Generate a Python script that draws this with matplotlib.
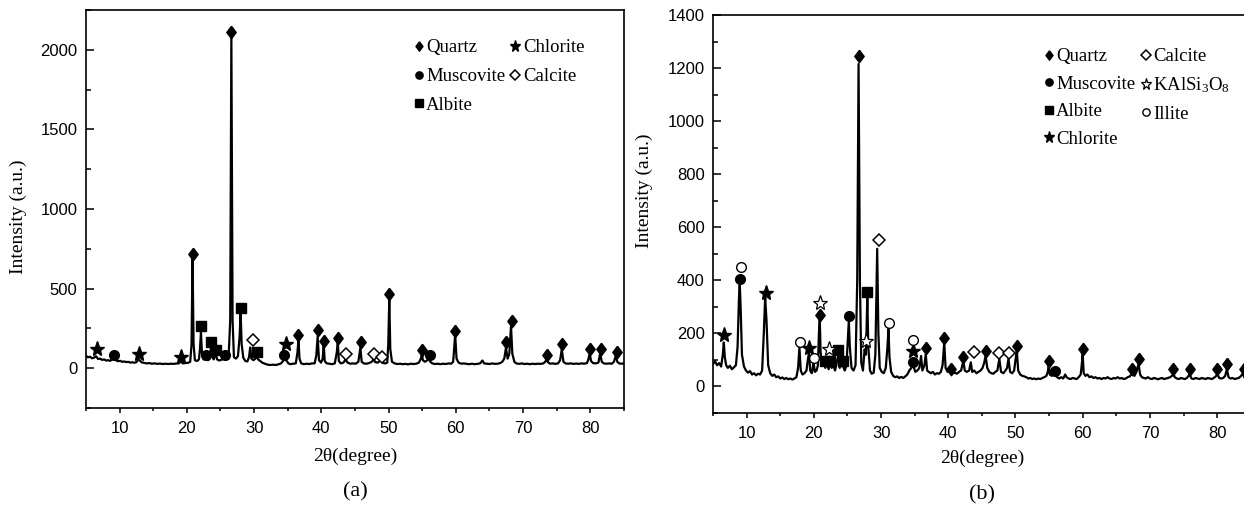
import matplotlib.pyplot as plt
from matplotlib.ticker import MultipleLocator

plt.rcParams['font.family'] = 'Liberation Serif'
plt.rcParams['mathtext.fontset'] = 'custom'
plt.rcParams['mathtext.rm'] = 'Liberation Serif'
plt.rcParams['mathtext.it'] = 'Liberation Serif:italic'

# ---- panel (a): XRD trace ----
trace_a = [
    (5.0, 78), (5.3, 68), (5.6, 72), (5.9, 62), (6.2, 66), (6.5, 75), (6.8, 58),
    (7.1, 60), (7.4, 52), (7.7, 55), (8.0, 48), (8.3, 50), (8.6, 46), (8.9, 55),
    (9.2, 62), (9.5, 48), (9.8, 44), (10.1, 46), (10.4, 40), (10.7, 42), (11.0, 38),
    (11.3, 40), (11.6, 35), (11.9, 37), (12.2, 34), (12.5, 38), (12.8, 55), (13.0, 48),
    (13.3, 36), (13.6, 34), (14.0, 30), (14.4, 32), (14.8, 28), (15.2, 30), (15.6, 27),
    (16.0, 29), (16.4, 26), (16.8, 28), (17.2, 26), (17.6, 28), (18.0, 27), (18.4, 29),
    (18.8, 30), (19.1, 42), (19.4, 30), (19.8, 32), (20.2, 34), (20.5, 40), (20.7, 150),
    (20.85, 700), (21.0, 150), (21.2, 50), (21.5, 45), (21.8, 55), (21.95, 120),
    (22.1, 225), (22.25, 90), (22.5, 55), (22.8, 60), (22.95, 70), (23.15, 50),
    (23.4, 60), (23.6, 135), (23.8, 70), (24.0, 55), (24.3, 95), (24.5, 55), (24.8, 48),
    (25.1, 52), (25.4, 58), (25.7, 70), (25.9, 55), (26.2, 60), (26.45, 300),
    (26.62, 2085), (26.8, 300), (27.0, 70), (27.3, 60), (27.6, 75), (27.85, 200),
    (28.0, 350), (28.15, 150), (28.4, 65), (28.7, 45), (29.0, 42), (29.25, 70),
    (29.42, 130), (29.6, 60), (29.9, 50), (30.2, 60), (30.4, 80), (30.6, 55), (30.9, 45),
    (31.2, 35), (31.6, 28), (32.0, 22), (32.4, 20), (32.8, 22), (33.2, 20), (33.6, 24),
    (34.0, 30), (34.3, 45), (34.55, 62), (34.8, 48), (35.1, 30), (35.4, 25), (35.8, 28),
    (36.2, 30), (36.45, 100), (36.6, 180), (36.75, 60), (37.0, 30), (37.4, 25),
    (37.8, 28), (38.2, 26), (38.6, 30), (39.0, 30), (39.25, 80), (39.45, 200),
    (39.65, 50), (39.95, 35), (40.2, 60), (40.35, 150), (40.5, 45), (40.8, 30),
    (41.2, 28), (41.6, 25), (42.0, 30), (42.3, 100), (42.45, 170), (42.6, 45),
    (42.9, 30), (43.3, 35), (43.6, 55), (43.9, 35), (44.3, 28), (44.7, 30), (45.1, 28),
    (45.5, 40), (45.8, 128), (46.0, 40), (46.3, 30), (46.7, 28), (47.1, 32), (47.5, 40),
    (47.8, 58), (48.0, 38), (48.4, 35), (48.7, 45), (48.95, 55), (49.2, 32), (49.5, 30),
    (49.8, 35), (49.95, 150), (50.1, 435), (50.25, 120), (50.5, 40), (50.9, 30),
    (51.3, 26), (51.7, 28), (52.1, 25), (52.5, 27), (52.9, 24), (53.3, 28), (53.7, 26),
    (54.1, 28), (54.5, 35), (54.8, 60), (54.95, 88), (55.1, 50), (55.4, 40), (55.7, 48),
    (56.0, 60), (56.2, 40), (56.5, 30), (56.9, 26), (57.3, 28), (57.7, 25), (58.1, 28),
    (58.5, 26), (58.9, 30), (59.3, 28), (59.6, 40), (59.9, 212), (60.1, 60), (60.4, 35),
    (60.8, 28), (61.2, 30), (61.6, 27), (62.0, 25), (62.4, 28), (62.8, 25), (63.2, 27),
    (63.6, 30), (63.95, 48), (64.2, 30), (64.6, 28), (65.0, 26), (65.4, 30), (65.8, 27),
    (66.2, 28), (66.6, 32), (66.9, 40), (67.2, 60), (67.45, 128), (67.7, 60),
    (67.95, 90), (68.2, 265), (68.4, 90), (68.7, 40), (69.0, 30), (69.4, 27), (69.8, 30),
    (70.2, 26), (70.6, 28), (71.0, 25), (71.4, 28), (71.8, 26), (72.2, 28), (72.6, 27),
    (73.0, 30), (73.3, 40), (73.5, 60), (73.7, 38), (74.0, 28), (74.4, 30), (74.8, 27),
    (75.2, 30), (75.5, 50), (75.75, 118), (76.0, 40), (76.3, 30), (76.7, 28), (77.1, 30),
    (77.5, 27), (77.9, 29), (78.3, 27), (78.7, 30), (79.1, 28), (79.5, 32), (79.7, 55),
    (79.9, 93), (80.1, 45), (80.4, 32), (80.8, 30), (81.2, 35), (81.45, 93), (81.7, 40),
    (82.0, 30), (82.4, 28), (82.8, 30), (83.2, 28), (83.5, 40), (83.8, 80), (84.0, 40),
    (84.3, 30), (84.6, 28), (85.0, 30),
]
two_theta_a = [p[0] for p in trace_a]
intensity_a = [p[1] for p in trace_a]

quartz_a_x = [20.88, 26.58, 36.6, 39.57, 40.4, 42.45, 45.9, 50.13, 54.95, 59.9, 67.5, 68.35, 73.55, 75.8, 79.9, 81.6, 83.9]
quartz_a_y = [720, 2110, 208, 240, 170, 190, 163, 465, 113, 236, 166, 298, 82, 153, 118, 118, 103]
muscovite_a_x = [9.17, 22.9, 25.6, 34.46, 56.1]
muscovite_a_y = [85, 82, 80, 80, 84]
albite_a_x = [22.1, 23.6, 24.35, 28.07, 30.4]
albite_a_y = [263, 163, 112, 378, 102]
chlorite_a_x = [6.6, 12.93, 19.1, 34.7]
chlorite_a_y = [120, 92, 72, 149]
calcite_a_x = [29.8, 43.6, 47.86, 49.0]
calcite_a_y = [178, 86, 86, 72]

# ---- panel (b) ----
trace_b = [
    (5.0, 85), (5.3, 95), (5.6, 80), (5.9, 88), (6.2, 75), (6.45, 120), (6.6, 166),
    (6.75, 110), (6.95, 80), (7.2, 70), (7.5, 78), (7.8, 65), (8.1, 72), (8.4, 80),
    (8.65, 150), (8.85, 330), (8.97, 393), (9.1, 300), (9.3, 120), (9.6, 75), (9.9, 60),
    (10.2, 52), (10.5, 58), (10.8, 45), (11.1, 50), (11.4, 42), (11.7, 48), (12.0, 45),
    (12.3, 60), (12.55, 200), (12.75, 336), (12.95, 250), (13.2, 80), (13.5, 50),
    (13.8, 40), (14.1, 45), (14.4, 35), (14.7, 38), (15.0, 30), (15.3, 34), (15.6, 28),
    (15.9, 32), (16.2, 27), (16.5, 30), (16.8, 26), (17.1, 30), (17.4, 35), (17.65, 70),
    (17.85, 147), (18.05, 60), (18.3, 45), (18.6, 50), (18.9, 60), (19.1, 100),
    (19.28, 129), (19.45, 60), (19.7, 50), (19.95, 91), (20.15, 55), (20.4, 60),
    (20.6, 80), (20.75, 200), (20.88, 255), (21.0, 130), (21.2, 80), (21.45, 95),
    (21.7, 70), (21.95, 90), (22.2, 65), (22.45, 100), (22.65, 70), (22.9, 80),
    (23.15, 60), (23.45, 95), (23.65, 120), (23.85, 70), (24.1, 85), (24.35, 75),
    (24.6, 60), (24.85, 80), (25.05, 180), (25.2, 248), (25.35, 150), (25.6, 70),
    (25.9, 60), (26.2, 80), (26.45, 400), (26.65, 1215), (26.85, 400), (27.05, 90),
    (27.3, 60), (27.55, 140), (27.75, 120), (27.95, 336), (28.1, 150), (28.35, 60),
    (28.6, 48), (28.9, 52), (29.15, 120), (29.42, 519), (29.6, 200), (29.8, 70),
    (30.1, 55), (30.4, 50), (30.7, 70), (30.95, 150), (31.1, 217), (31.25, 110),
    (31.5, 55), (31.8, 40), (32.1, 35), (32.4, 38), (32.7, 32), (33.0, 36), (33.3, 32),
    (33.6, 38), (33.9, 45), (34.2, 60), (34.5, 70), (34.8, 78), (35.1, 55), (35.4, 60),
    (35.7, 70), (35.95, 115), (36.15, 60), (36.45, 80), (36.65, 122), (36.85, 60),
    (37.1, 55), (37.4, 50), (37.7, 55), (38.0, 45), (38.3, 50), (38.6, 48), (38.9, 55),
    (39.15, 80), (39.4, 166), (39.6, 70), (39.9, 55), (40.2, 65), (40.4, 55), (40.7, 50),
    (41.0, 52), (41.3, 48), (41.6, 55), (41.9, 60), (42.1, 80), (42.25, 98), (42.45, 60),
    (42.75, 55), (43.1, 60), (43.35, 91), (43.55, 55), (43.85, 60), (44.2, 50),
    (44.5, 55), (44.8, 60), (45.1, 70), (45.35, 90), (45.55, 116), (45.8, 70),
    (46.1, 55), (46.4, 50), (46.7, 48), (47.0, 55), (47.3, 60), (47.6, 104), (47.85, 55),
    (48.2, 50), (48.5, 60), (48.75, 70), (48.95, 104), (49.2, 55), (49.5, 50), (49.8, 60),
    (50.0, 100), (50.2, 135), (50.4, 60), (50.7, 45), (51.0, 40), (51.3, 38), (51.6, 35),
    (51.9, 30), (52.2, 32), (52.5, 28), (52.8, 30), (53.1, 27), (53.4, 30), (53.7, 28),
    (54.0, 32), (54.3, 35), (54.6, 40), (54.8, 55), (54.95, 80), (55.1, 45), (55.4, 40),
    (55.7, 50), (55.95, 42), (56.2, 35), (56.5, 30), (56.8, 35), (57.1, 30), (57.4, 45),
    (57.6, 35), (57.9, 30), (58.2, 28), (58.5, 32), (58.8, 30), (59.1, 28), (59.4, 35),
    (59.7, 45), (59.85, 80), (60.0, 122), (60.15, 50), (60.4, 40), (60.7, 45), (61.0, 35),
    (61.3, 38), (61.6, 32), (61.9, 35), (62.2, 30), (62.5, 32), (62.8, 28), (63.1, 32),
    (63.4, 30), (63.7, 35), (64.0, 30), (64.3, 28), (64.6, 32), (64.9, 30), (65.2, 35),
    (65.5, 30), (65.8, 32), (66.1, 28), (66.4, 30), (66.7, 35), (67.0, 38), (67.4, 50),
    (67.7, 40), (68.0, 55), (68.3, 85), (68.55, 45), (68.8, 35), (69.1, 32), (69.4, 30),
    (69.7, 35), (70.0, 30), (70.3, 28), (70.6, 32), (70.9, 30), (71.2, 27), (71.5, 30),
    (71.8, 32), (72.1, 28), (72.4, 30), (72.7, 32), (73.0, 35), (73.3, 40), (73.5, 48),
    (73.7, 35), (74.0, 30), (74.3, 28), (74.6, 32), (74.9, 30), (75.2, 28), (75.5, 32),
    (75.9, 45), (76.2, 30), (76.5, 28), (76.8, 32), (77.1, 30), (77.4, 28), (77.7, 32),
    (78.0, 30), (78.3, 28), (78.6, 32), (78.9, 30), (79.2, 28), (79.5, 32), (79.8, 38),
    (80.05, 48), (80.3, 32), (80.6, 30), (80.9, 32), (81.2, 40), (81.45, 65), (81.7, 35),
    (82.0, 30), (82.3, 32), (82.6, 28), (82.9, 30), (83.2, 32), (83.5, 38), (83.8, 48),
    (84.1, 32), (84.5, 30), (85.0, 32),
]
two_theta_b = [p[0] for p in trace_b]
intensity_b = [p[1] for p in trace_b]

quartz_b_x = [20.88, 26.7, 36.65, 39.4, 40.37, 42.25, 45.6, 50.2, 54.94, 60.0, 67.4, 68.4, 73.5, 75.9, 80.05, 81.5, 84.0]
quartz_b_y = [271, 1244, 144, 183, 66, 112, 132, 154, 97, 141, 66, 104, 66, 66, 66, 85, 66]
muscovite_b_x = [8.97, 25.2, 34.7, 55.9]
muscovite_b_y = [406, 264, 91, 59]
albite_b_x = [21.6, 22.4, 23.65, 24.3, 27.96]
albite_b_y = [97, 97, 138, 97, 355]
chlorite_b_x = [6.64, 12.93, 19.29, 34.75]
chlorite_b_y = [195, 353, 145, 135]
calcite_b_x = [29.66, 43.85, 47.6, 49.1]
calcite_b_y = [551, 129, 125, 125]
kalsi_b_x = [20.95, 22.2, 27.7]
kalsi_b_y = [315, 141, 170]
illite_b_x = [9.1, 17.9, 19.98, 31.2, 34.7]
illite_b_y = [450, 166, 107, 240, 175]

diamond = [(0, 1), (0.75, 0), (0, -1), (-0.75, 0), (0, 1)]
styles = {
    'Quartz': dict(marker=diamond, ms=9, mfc='black', mec='black'),
    'Muscovite': dict(marker='o', ms=7, mfc='black', mec='black'),
    'Albite': dict(marker='s', ms=7, mfc='black', mec='black'),
    'Chlorite': dict(marker='*', ms=11, mfc='black', mec='black'),
    'Calcite': dict(marker='D', ms=6.5, mfc='white', mec='black', mew=1.1),
    'KAlSi$_3$O$_8$': dict(marker='*', ms=11, mfc='white', mec='black', mew=0.9),
    'Illite': dict(marker='o', ms=7, mfc='white', mec='black', mew=1.0),
}

fig = plt.figure(figsize=(12.44, 5.08), dpi=100)
ax_a = fig.add_axes([0.0691, 0.1969, 0.4325, 0.7835])
ax_b = fig.add_axes([0.5732, 0.187, 0.4322, 0.7835])


def setup(ax, ylim, major, minor):
    ax.set_xlim(5, 85)
    ax.set_ylim(*ylim)
    ax.xaxis.set_major_locator(MultipleLocator(10))
    ax.xaxis.set_minor_locator(MultipleLocator(5))
    ax.yaxis.set_major_locator(MultipleLocator(major))
    ax.yaxis.set_minor_locator(MultipleLocator(minor))
    ax.tick_params(axis='y', which='major', direction='in', length=6, width=1.1, pad=6)
    ax.tick_params(axis='y', which='minor', direction='in', length=3.5, width=1.1)
    ax.tick_params(axis='x', which='major', direction='out', length=3.5, width=1.1, pad=6)
    ax.tick_params(axis='x', which='minor', direction='out', length=2.5, width=1.1)
    for lab in ax.get_xticklabels() + ax.get_yticklabels():
        lab.set_fontfamily('Liberation Sans')
        lab.set_fontsize(12)
    for sp in ax.spines.values():
        sp.set_linewidth(1.2)
    ax.set_xlabel('2θ(degree)', fontsize=14)
    ax.set_ylabel('Intensity (a.u.)', fontsize=14)


setup(ax_a, (-250, 2250), 500, 250)
setup(ax_b, (-100, 1400), 200, 100)

ax_a.plot(two_theta_a, intensity_a, color='black', lw=1.6)
ax_b.plot(two_theta_b, intensity_b, color='black', lw=1.6)

handles_a = []
for name, xs, ys in [('Quartz', quartz_a_x, quartz_a_y),
                     ('Muscovite', muscovite_a_x, muscovite_a_y),
                     ('Albite', albite_a_x, albite_a_y),
                     ('Chlorite', chlorite_a_x, chlorite_a_y),
                     ('Calcite', calcite_a_x, calcite_a_y)]:
    h, = ax_a.plot(xs, ys, ls='none', label=name, **styles[name])
    handles_a.append(h)

handles_b = []
for name, xs, ys in [('Quartz', quartz_b_x, quartz_b_y),
                     ('Muscovite', muscovite_b_x, muscovite_b_y),
                     ('Albite', albite_b_x, albite_b_y),
                     ('Chlorite', chlorite_b_x, chlorite_b_y),
                     ('Calcite', calcite_b_x, calcite_b_y),
                     ('KAlSi$_3$O$_8$', kalsi_b_x, kalsi_b_y),
                     ('Illite', illite_b_x, illite_b_y)]:
    h, = ax_b.plot(xs, ys, ls='none', label=name, clip_on=False, **styles[name])
    handles_b.append(h)

leg_kw = dict(ncol=2, frameon=False, fontsize=13.5, handlelength=0.5,
              handletextpad=0.15, columnspacing=0.3, borderpad=0,
              markerscale=0.75, loc='upper left')
ax_a.legend(handles=handles_a, bbox_to_anchor=(0.592, 0.95), labelspacing=0.62, **leg_kw)
ax_b.legend(handles=handles_b, bbox_to_anchor=(0.598, 0.94), labelspacing=0.55, **leg_kw)

ax_a.xaxis.set_label_coords(0.5, -0.10)
ax_b.xaxis.set_label_coords(0.5, -0.093)
ax_a.yaxis.set_label_coords(-0.11, 0.48)
ax_b.yaxis.set_label_coords(-0.112, 0.558)

fig.text(0.286, 0.0315, '(a)', fontsize=16, ha='center', va='center')
fig.text(0.789, 0.0256, '(b)', fontsize=16, ha='center', va='center')

fig.savefig('out.png', dpi=100)
